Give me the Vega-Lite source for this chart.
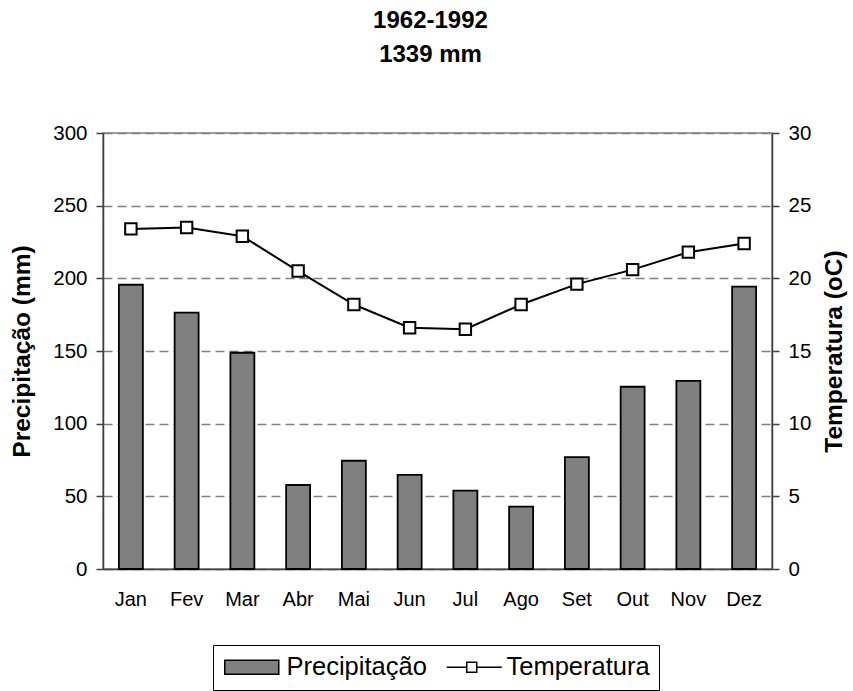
{
  "$schema": "https://vega.github.io/schema/vega-lite/v6.json",
  "width": 669,
  "height": 436,
  "autosize": {"type": "none"},
  "padding": {"left": 103, "top": 133, "right": 81, "bottom": 122},
  "config": {
    "font": "Liberation Sans",
    "view": {"stroke": "#808080", "strokeWidth": 1.5},
    "axis": {"labelFont": "Liberation Sans", "titleFont": "Liberation Sans", "labelColor": "#000", "titleColor": "#000"}
  },
  "title": {
    "text": ["1962-1992", "1339 mm"],
    "font": "Liberation Sans",
    "fontSize": 24,
    "fontWeight": "bold",
    "color": "#000",
    "anchor": "middle",
    "frame": "group",
    "lineHeight": 34,
    "offset": 56,
    "dx": -7
  },
  "data": {
    "values": [
      {"mes": "Jan", "prec": 195.6, "temp": 23.4},
      {"mes": "Fev", "prec": 176.4, "temp": 23.5},
      {"mes": "Mar", "prec": 148.8, "temp": 22.9},
      {"mes": "Abr", "prec": 57.8, "temp": 20.5},
      {"mes": "Mai", "prec": 74.5, "temp": 18.2},
      {"mes": "Jun", "prec": 64.7, "temp": 16.6},
      {"mes": "Jul", "prec": 53.9, "temp": 16.5},
      {"mes": "Ago", "prec": 42.9, "temp": 18.2},
      {"mes": "Set", "prec": 77.0, "temp": 19.6},
      {"mes": "Out", "prec": 125.4, "temp": 20.6},
      {"mes": "Nov", "prec": 129.4, "temp": 21.8},
      {"mes": "Dez", "prec": 194.3, "temp": 22.4}
    ]
  },
  "encoding": {
    "x": {
      "field": "mes",
      "type": "ordinal",
      "sort": ["Jan", "Fev", "Mar", "Abr", "Mai", "Jun", "Jul", "Ago", "Set", "Out", "Nov", "Dez"],
      "scale": {"paddingInner": 0.57, "paddingOuter": 0.285},
      "axis": {
        "title": null,
        "labelAngle": 0,
        "ticks": false,
        "labelFontSize": 20,
        "labelPadding": 20,
        "domainColor": "#404040",
        "domainWidth": 1.5
      }
    }
  },
  "layer": [
    {
      "mark": {"type": "bar", "stroke": "#000", "strokeWidth": 1.8},
      "encoding": {
        "y": {
          "field": "prec",
          "type": "quantitative",
          "scale": {"domain": [0, 300], "nice": false},
          "axis": {
            "orient": "left",
            "title": "Precipitação (mm)",
            "values": [0, 50, 100, 150, 200, 250, 300],
            "grid": true,
            "gridColor": "#808080",
            "gridDash": [9, 5],
            "gridWidth": 1.5,
            "tickSize": 7,
            "tickColor": "#404040",
            "tickWidth": 1.5,
            "domainColor": "#404040",
            "domainWidth": 1.5,
            "labelFontSize": 20.5,
            "labelPadding": 9,
            "titleFontSize": 24.5,
            "titleFontWeight": "bold",
            "titlePadding": 18
          }
        },
        "fill": {
          "datum": "Precipitação",
          "scale": {"domain": ["Precipitação", "Temperatura"], "range": ["#808080", "#ffffff"]},
          "legend": {
            "orient": "none",
            "legendX": 110,
            "legendY": 512,
            "direction": "horizontal",
            "title": null,
            "strokeColor": "#000",
            "fillColor": "#fff",
            "padding": 9,
            "labelFont": "Liberation Sans",
            "labelFontSize": 25.5,
            "labelColor": "#000",
            "symbolSize": 400,
            "symbolStrokeColor": "#000",
            "symbolStrokeWidth": 1.5,
            "labelOffset": 39,
            "columnPadding": 16,
            "encode": {
              "symbols": {
                "update": {
                  "shape": {"signal": "datum.value === 'Precipitação' ? 'M-1,-0.7L4.4,-0.7L4.4,0.7L-1,0.7Z' : 'M-1,0L1,0M2,0L4.5,0M1,-0.5L2,-0.5L2,0.5L1,0.5Z'"},
                  "stroke": {"value": "#000"},
                  "strokeWidth": {"value": 1.5}
                }
              },
              "labels": {
                "update": {
                  "dx": {"signal": "datum.value === 'Temperatura' ? -2 : 0"}
                }
              }
            }
          }
        }
      }
    },
    {
      "encoding": {
        "y": {
          "field": "temp",
          "type": "quantitative",
          "scale": {"domain": [0, 30], "nice": false},
          "axis": {
            "orient": "right",
            "title": "Temperatura (oC)",
            "values": [0, 5, 10, 15, 20, 25, 30],
            "grid": false,
            "tickSize": 7,
            "tickColor": "#404040",
            "tickWidth": 1.5,
            "domainColor": "#404040",
            "domainWidth": 1.5,
            "labelFontSize": 20.5,
            "labelPadding": 9,
            "titleFontSize": 24.5,
            "titleFontWeight": "bold",
            "titleAngle": -90,
            "titleBaseline": "top",
            "titlePadding": 12
          }
        }
      },
      "layer": [
        {"mark": {"type": "line", "color": "#000", "strokeWidth": 2}},
        {
          "mark": {"type": "point", "shape": "square", "filled": true, "size": 130, "stroke": "#000", "strokeWidth": 2, "opacity": 1},
          "encoding": {"fill": {"datum": "Temperatura"}}
        }
      ]
    }
  ],
  "resolve": {"scale": {"y": "independent"}}
}
